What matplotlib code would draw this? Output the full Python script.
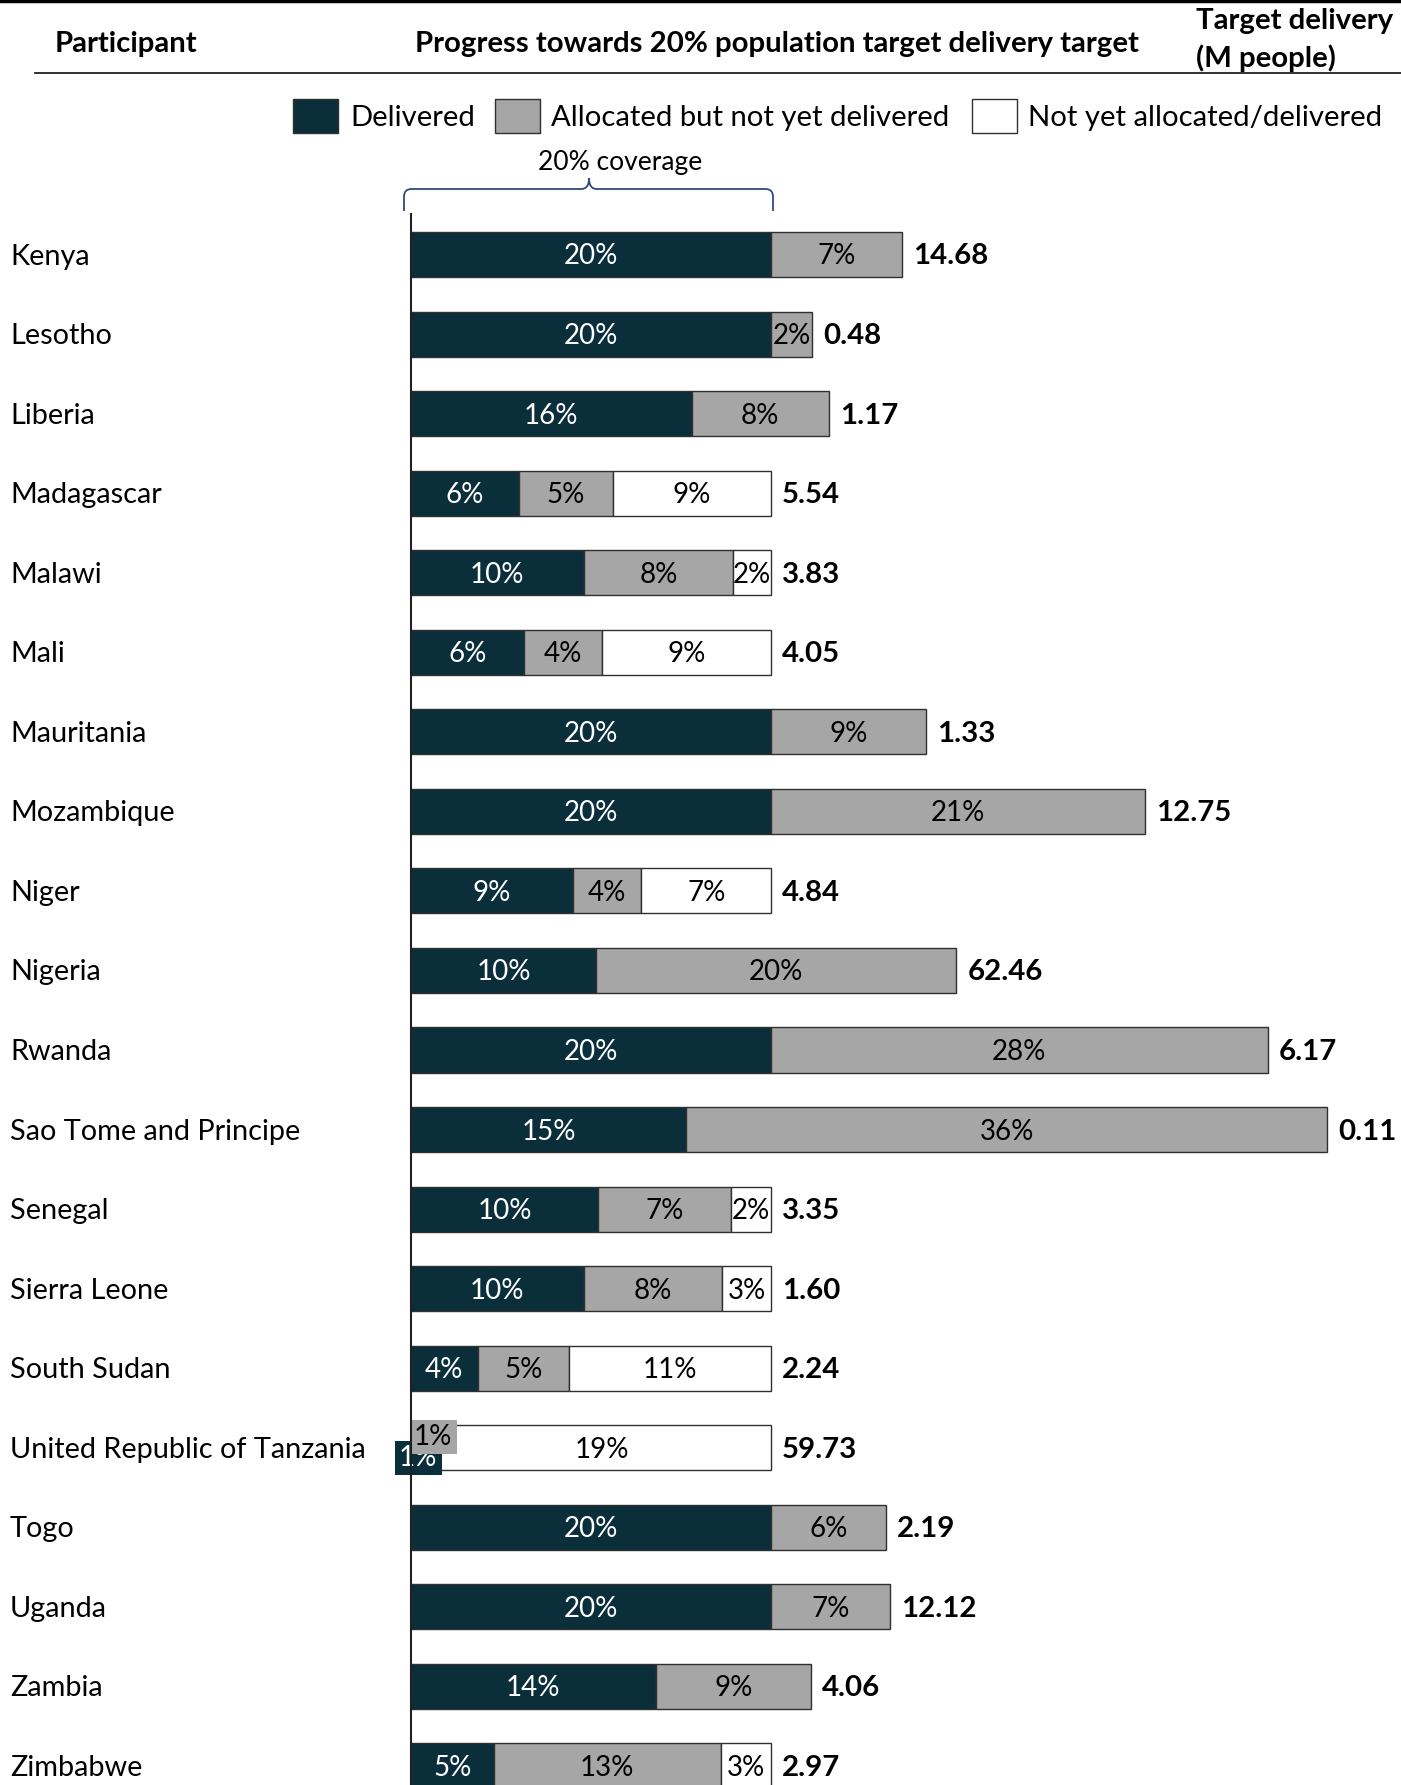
import matplotlib.pyplot as plt
import matplotlib.transforms as mtransforms
from matplotlib.patches import Rectangle, PathPatch
from matplotlib.path import Path

plt.rcParams['font.family'] = ['Lato', 'DejaVu Sans']

# data
countries = ['Kenya', 'Lesotho', 'Liberia', 'Madagascar', 'Malawi', 'Mali',
             'Mauritania', 'Mozambique', 'Niger', 'Nigeria', 'Rwanda',
             'Sao Tome and Principe', 'Senegal', 'Sierra Leone', 'South Sudan',
             'United Republic of Tanzania', 'Togo', 'Uganda', 'Zambia', 'Zimbabwe']
delivered = [20.0, 20.0, 15.6, 6.0, 9.6, 6.3, 20.0, 20.0, 9.0, 10.3, 20.0,
             15.3, 10.4, 9.6, 3.7, 0.6, 20.0, 20.0, 13.6, 4.6]
allocated = [7.3, 2.3, 7.6, 5.2, 8.3, 4.3, 8.6, 20.8, 3.8, 20.0, 27.6,
             35.6, 7.4, 7.7, 5.1, 0.6, 6.4, 6.6, 8.6, 12.6]
not_yet = [0, 0, 0, 8.8, 2.1, 9.4, 0, 0, 7.2, 0, 0,
           0, 2.2, 2.7, 11.2, 18.8, 0, 0, 0, 2.8]
target_m = [14.68, 0.48, 1.17, 5.54, 3.83, 4.05, 1.33, 12.75, 4.84, 62.46, 6.17,
            0.11, 3.35, 1.60, 2.24, 59.73, 2.19, 12.12, 4.06, 2.97]
legend_labels = ['Delivered', 'Allocated but not yet delivered', 'Not yet allocated/delivered']

DARK = '#0b2e3b'
GREY = '#a6a6a6'
WHITE = '#ffffff'
colors = [DARK, GREY, WHITE]
text_colors = ['white', 'black', 'black']
FS = 20.8      # regular text
FSB = 21.2     # bold text

W, H = 1401, 1785
fig = plt.figure(figsize=(W / 100, H / 100), dpi=100)
ax = fig.add_axes([0, 0, 1, 1])

# pixel layout: 0% at x=411, 18 px per percent, rows every 79.55 px
X0, PPP = 411, 18.0
ROW0, ROWH = 254.5, 79.55
ax.set_xlim(-X0 / PPP, (W - X0) / PPP)
ax.set_ylim((H - ROW0) / ROWH, -ROW0 / ROWH)
ax.axis('off')

# pixel transform (x from left, y from top)
px = mtransforms.Affine2D().scale(1 / W, -1 / H).translate(0, 1) + fig.transFigure
base = 10 / ROWH  # baseline offset so text is centred on the bar

for i, name in enumerate(countries):
    segs = [delivered[i], allocated[i], not_yet[i]]
    left = 0
    for k, v in enumerate(segs):
        if v <= 0:
            continue
        ax.barh(i, v, left=left, height=0.566, color=colors[k],
                edgecolor='#303030', linewidth=1, zorder=2)
        if v >= 1.5:
            ax.text(left + v / 2, i + base, f"{v:.0f}%", ha='center', va='baseline',
                    color=text_colors[k], fontsize=20, zorder=3)
        else:
            # tiny segments: boxed labels pushed off the bar
            off = (1.4, -7.2) if k == 0 else (4.3, 7.9)
            ax.annotate(f"{v:.0f}%", (left + v / 2, i), xytext=off,
                        textcoords='offset points', ha='center', va='center',
                        color=text_colors[k], fontsize=20, zorder=4,
                        bbox=dict(boxstyle='square,pad=0.15', fc=colors[k], ec='none'))
        left += v
    ax.text(left + 11 / PPP, i + base, f"{target_m[i]:.2f}", ha='left', va='baseline',
            fontsize=FSB, fontweight='bold', zorder=3)
    ax.text((10 - X0) / PPP, i + base, name, ha='left', va='baseline', fontsize=FS)

# vertical axis line
ax.vlines(0, (213 - ROW0) / ROWH, len(countries) + 1, color='#202020', linewidth=1.5, zorder=5)

# header
fig.add_artist(plt.Line2D([0, W], [1.5, 1.5], transform=px, color='black', linewidth=2.5))
fig.add_artist(plt.Line2D([35, W], [73, 73], transform=px, color='#202020', linewidth=1.3))
fig.text(55, 52, 'Participant', transform=px, fontsize=FSB, fontweight='bold', va='baseline')
fig.text(777, 52, 'Progress towards 20% population target delivery target', transform=px,
         fontsize=FSB, fontweight='bold', va='baseline', ha='center')
fig.text(1196, 29, 'Target delivery', transform=px, fontsize=FSB, fontweight='bold', va='baseline')
fig.text(1196, 67, '(M people)', transform=px, fontsize=FSB, fontweight='bold', va='baseline')

# legend
for sx, tx, c, lab in zip([293, 495, 972], [350, 551, 1028], colors, legend_labels):
    fig.add_artist(Rectangle((sx, 99), 45, 34, transform=px, facecolor=c,
                             edgecolor='#303030', linewidth=1))
    fig.text(tx, 126, lab, transform=px, fontsize=21.1, va='baseline')

# brace over the 20% coverage
verts = [(404, 211), (404, 197), (404, 192), (406, 189), (412, 189), (581, 189),
         (586, 189), (589, 186), (589, 178), (589, 186), (592, 189), (597, 189),
         (765, 189), (771, 189), (773, 192), (773, 197), (773, 211)]
codes = [Path.MOVETO, Path.LINETO, Path.CURVE4, Path.CURVE4, Path.CURVE4, Path.LINETO,
         Path.CURVE4, Path.CURVE4, Path.CURVE4, Path.CURVE4, Path.CURVE4, Path.CURVE4,
         Path.LINETO, Path.CURVE4, Path.CURVE4, Path.CURVE4, Path.LINETO]
fig.add_artist(PathPatch(Path(verts, codes), transform=px, facecolor='none',
                         edgecolor='#2f4b7c', linewidth=1.3))
fig.text(620, 170, '20% coverage', transform=px, fontsize=19, va='baseline', ha='center')

fig.savefig('out.png', dpi=100)
